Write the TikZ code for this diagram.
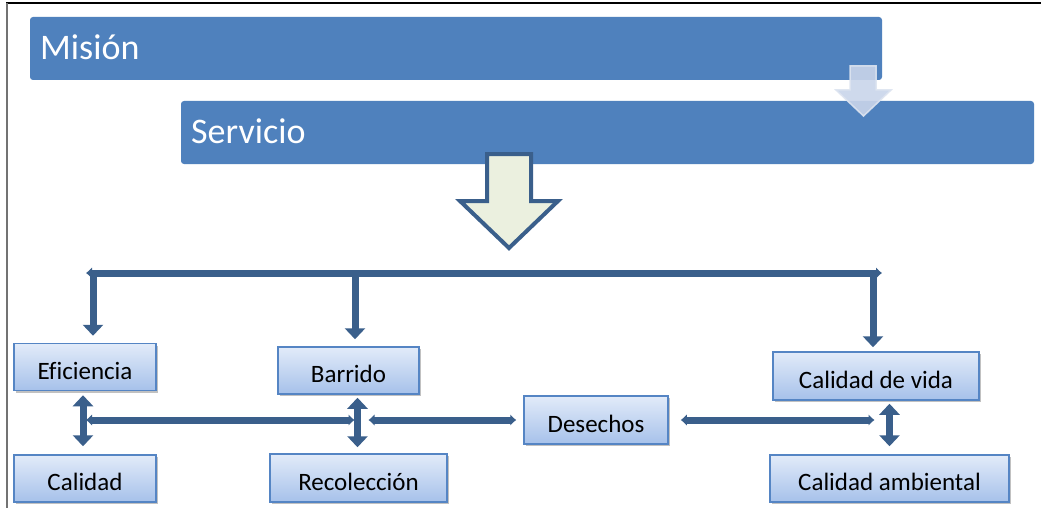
\documentclass[tikz,border=0pt]{standalone}
\usepackage{fontspec}
\setmainfont{Carlito}[Ligatures=NoCommon]
\usetikzlibrary{arrows.meta,shadows}
\definecolor{barblue}{HTML}{4F81BD}
\definecolor{conn}{HTML}{3A5F8B}
\definecolor{boxtop}{HTML}{E2EBF9}
\definecolor{boxbot}{HTML}{A6C1EA}
\definecolor{boxline}{HTML}{5585C4}
\definecolor{arrfill}{HTML}{EBF0DF}
\definecolor{fadefill}{HTML}{C9D5EA}
\definecolor{fadeline}{HTML}{DDE4F0}
\tikzset{
  bar/.style={fill=barblue, rounded corners=3pt, inner sep=0pt},
  bartext/.style={anchor=west, inner sep=0pt, text=white, font=\fontsize{36}{40}\selectfont},
  box/.style={draw=boxline, line width=1.5pt, top color=boxtop, bottom color=boxbot,
    inner sep=0pt, font=\fontsize{25}{28}\selectfont, text height=24pt, text depth=0pt,
    drop shadow={shadow xshift=2pt, shadow yshift=-2pt, opacity=0.4, fill=black!60}},
  bus/.style={draw=conn, line width=7pt, {Latex[width=12pt,length=6pt]}-{Latex[width=12pt,length=6pt]}},
  down/.style={draw=conn, line width=7pt, -{Triangle[width=20pt,length=11pt]}},
  dbl/.style={draw=conn, line width=7pt, {Triangle[width=20pt,length=11pt]}-{Triangle[width=20pt,length=11pt]}},
  link/.style={draw=conn, line width=7pt, {Latex[width=12pt,length=6pt]}-{Latex[width=12pt,length=6pt]}}
}
\begin{document}
\begin{tikzpicture}[x=1pt,y=-1pt]
\useasboundingbox (0,0) rectangle (1041,508);
\fill[white] (0,0) rectangle (1041,508);
% frame
\draw[black, line width=1.5pt] (6,3) -- (1041,3);
\draw[black!55, line width=2pt] (7,3) -- (7,508);
% bars
\node[bar, minimum width=852pt, minimum height=63pt] (mision) at (456,48.5) {};
\node[bartext] (misiontxt) at (40,47) {Misión};
\node[bar, minimum width=853pt, minimum height=63pt] (servicio) at (607.5,132.5) {};
\node[bartext] (serviciotxt) at (191,131) {Servicio};
% faded arrow
\draw[fill=fadefill, draw=fadeline, line width=1.5pt, opacity=0.9]
  (850,66) -- (876,66) -- (876,90) -- (891,90) -- (863.5,116) -- (836,90) -- (850,90) -- cycle;
% big arrow
\draw[fill=arrfill, draw=conn, line width=4pt, line join=miter]
  (487,154) -- (531,154) -- (531,201) -- (558,201) -- (509,248) -- (460,201) -- (487,201) -- cycle;
% boxes
\node[box, minimum width=142pt, minimum height=47pt] (ef) at (85,367) {Eficiencia};
\node[box, minimum width=141pt, minimum height=47pt] (bar) at (348.5,370.5) {Barrido};
\node[box, minimum width=142pt, minimum height=47pt] (cal) at (85,478.5) {Calidad};
\node[box, minimum width=177pt, minimum height=48pt] (rec) at (358.5,478) {Recolección};
\node[box, minimum width=144pt, minimum height=48pt] (des) at (596,420) {Desechos};
\node[box, minimum width=206pt, minimum height=48pt] (cdv) at (876,376) {Calidad de vida};
\node[box, minimum width=239pt, minimum height=47pt] (amb) at (889.5,478.5) {Calidad ambiental};
% bus
\coordinate (busL) at (86,273);
\coordinate (busR) at (882,273);
\draw[bus] (busL) -- (busR);
\coordinate (dA) at (93,273);
\coordinate (dB) at (355,273);
\coordinate (dC) at (873,273);
\draw[down, shorten >=7pt] (dA) -- (dA |- ef.north);
\draw[down, shorten >=7pt] (dB) -- (dB |- bar.north);
\draw[down, shorten >=4pt] (dC) -- (dC |- cdv.north);
% vertical double arrows
\coordinate (v1t) at ([xshift=-2pt]ef.south);
\draw[dbl, shorten <=4pt, shorten >=8pt] (v1t) -- (v1t |- cal.north);
\coordinate (v2t) at (bar.south -| rec.north);
\coordinate (v2t) at ([xshift=-1pt]v2t);
\draw[dbl, shorten <=3pt, shorten >=6pt] (v2t) -- (v2t |- rec.north);
\coordinate (v3t) at (cdv.south -| amb.north);
\draw[dbl, shorten <=3pt, shorten >=8pt] (v3t) -- (v3t |- amb.north);
% horizontal links
\coordinate (m1) at (v1t |- des.west);
\coordinate (m2) at (v2t |- des.west);
\coordinate (m3) at (v3t |- des.west);
\draw[link, shorten <=3pt, shorten >=3pt] (m1) -- (m2);
\draw[link, shorten <=11pt, shorten >=7pt] (m2) -- (des.west);
\draw[link, shorten <=12pt, shorten >=15pt] (des.east) -- (m3);
\end{tikzpicture}
\end{document}
